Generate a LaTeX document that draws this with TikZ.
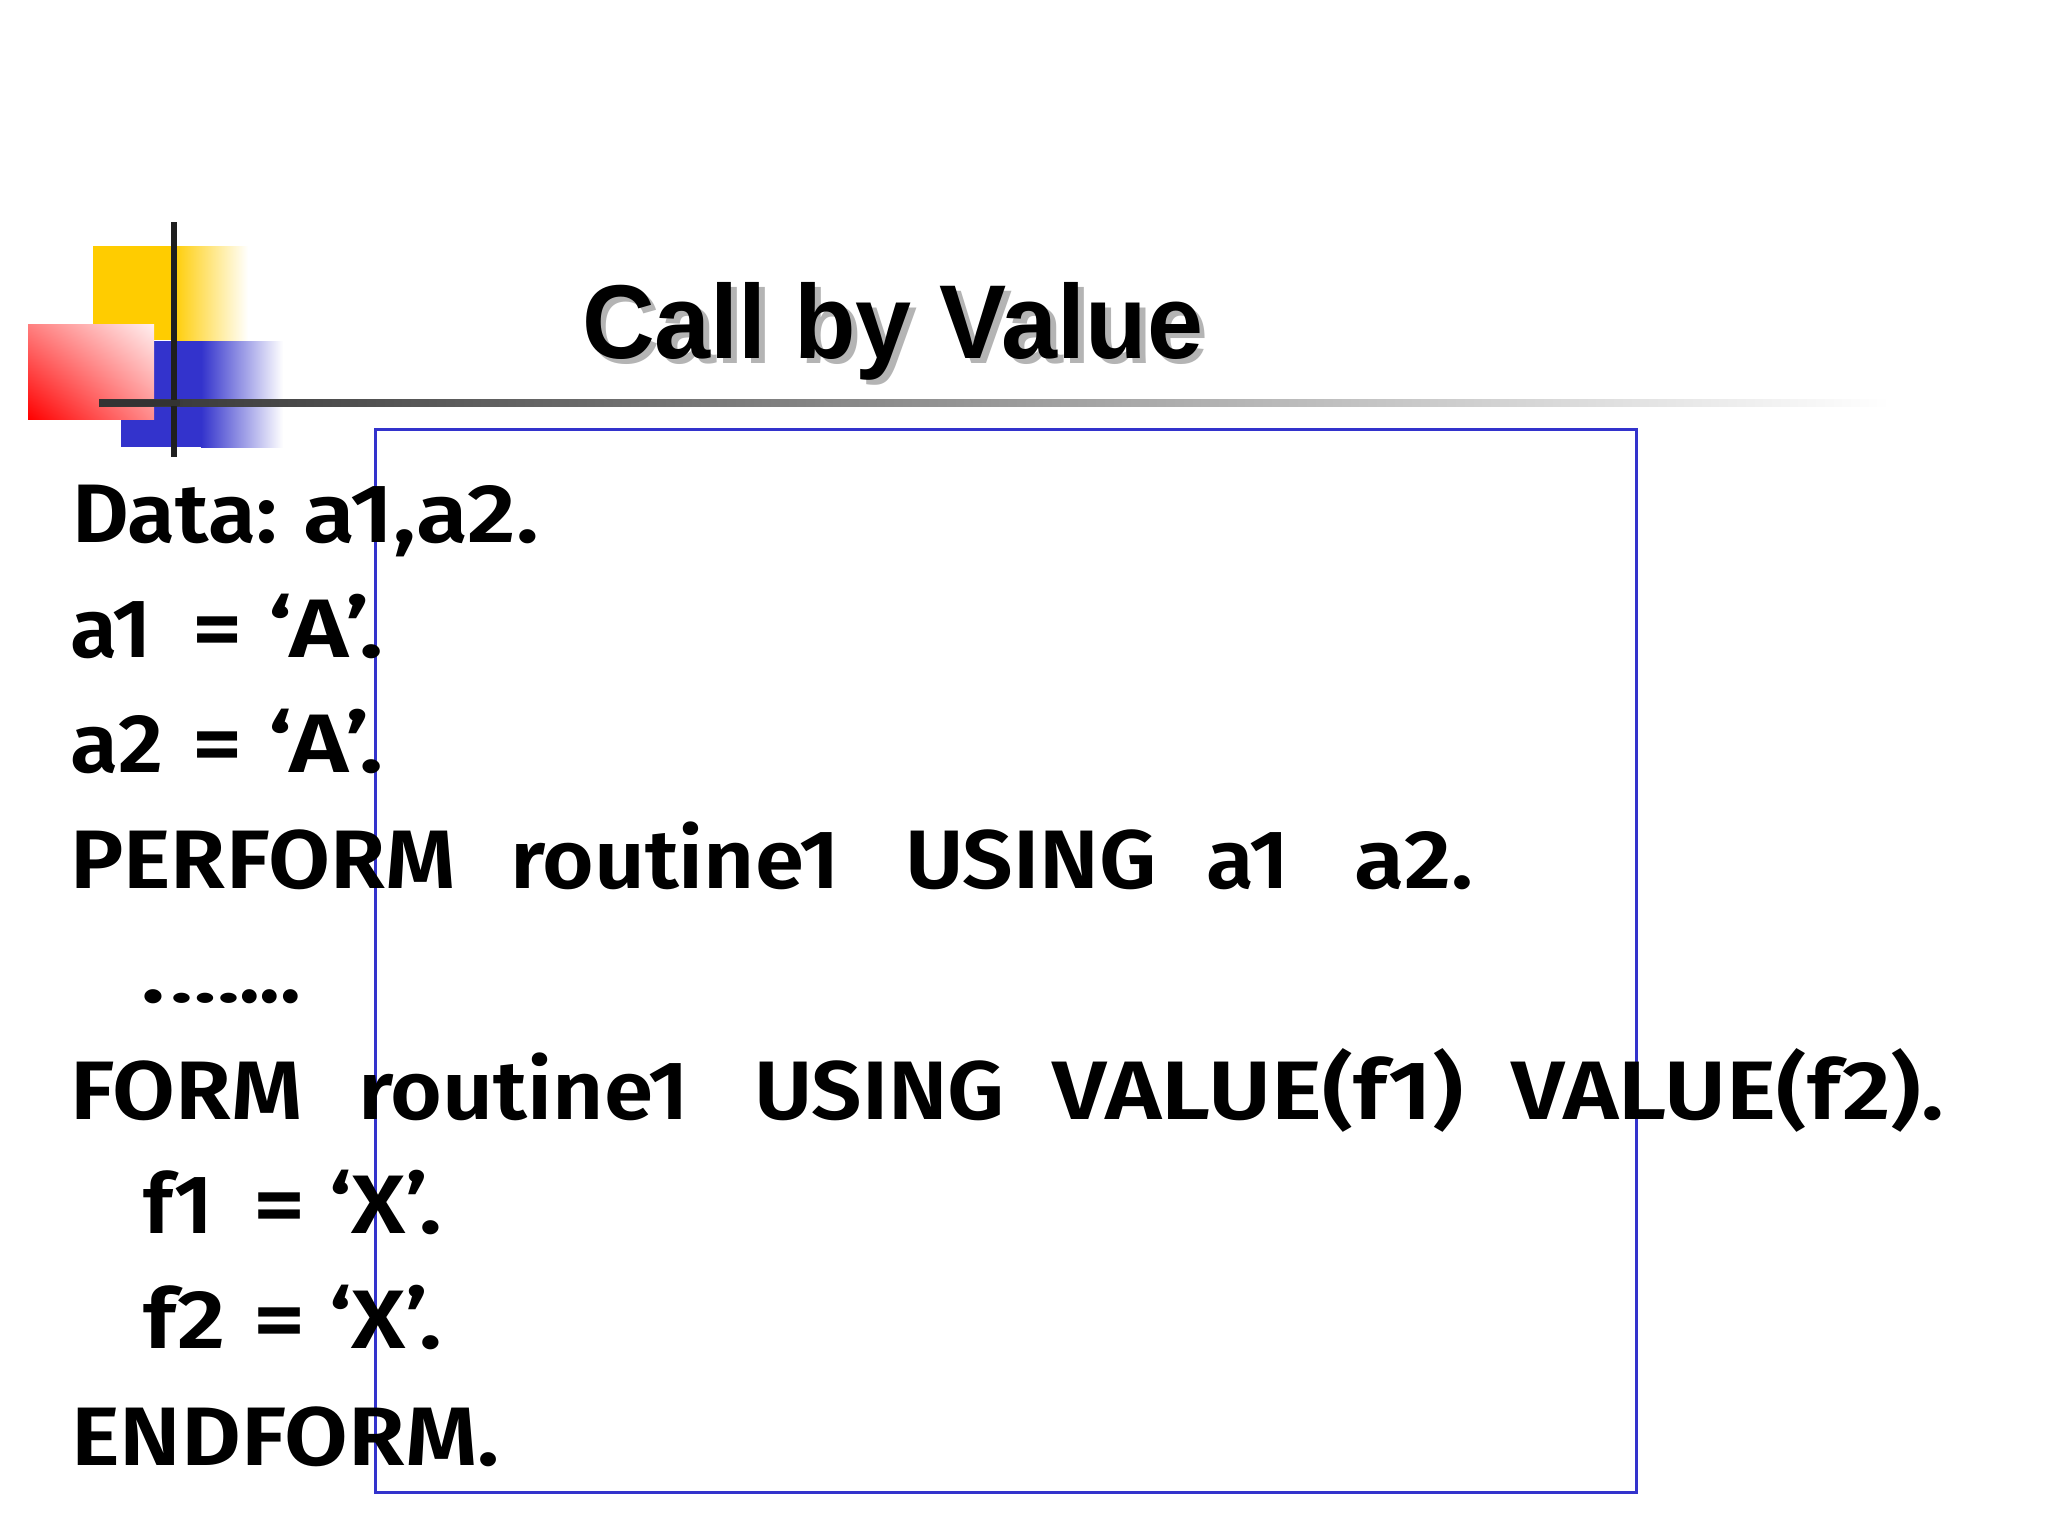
\documentclass[tikz,border=0pt]{standalone}
\usepackage{fontspec}
\usepackage{graphicx}
\usetikzlibrary{shadings}
\newfontfamily\bodyfont{Fira Sans SemiBold}
\newfontfamily\titlefont{Liberation Sans}
\newcommand\fitw[2]{\sbox0{#2}\pgfmathsetmacro\fitsx{#1/\wd0}\scalebox{\fitsx}[1]{\usebox0}}
\newcommand\shadowtext[1]{\rlap{\hspace{6pt}\raisebox{-5pt}{\textcolor{shadowgray}{#1}}}#1}
\definecolor{boxblue}{HTML}{3333CC}
\definecolor{sqyellow}{HTML}{FFCC00}
\definecolor{sqblue}{HTML}{3333CC}
\definecolor{sqred}{HTML}{FF0000}
\definecolor{shadowgray}{HTML}{B4B4B4}
\begin{document}
\begin{tikzpicture}[x=1pt,y=-1pt,
  wd/.style={anchor=base west,inner sep=0pt,outer sep=0pt,font={\bodyfont\fontsize{83}{90}\selectfont}},
  ttl/.style={anchor=base west,inner sep=0pt,outer sep=0pt,font={\titlefont\bfseries\fontsize{105}{110}\selectfont}},
  logoline/.style={line width=6pt,color=black!88}]
\useasboundingbox[fill=white] (0,0) rectangle (2048,1536);
% logo
\fill[sqyellow] (93,246) rectangle (173,340);
\shade[left color=sqyellow,right color=white] (172,246) rectangle (248,340);
\fill[sqblue] (121,341) rectangle (202,447);
\shade[left color=sqblue,right color=white] (201,341) rectangle (283,447);
\shade[lower left=sqred,upper right=red!6,upper left=red!50,lower right=red!45] (28,324) rectangle (154,419);
\shade[left color=black!80,right color=white] (99,399.5) rectangle (1890,406.5);
\draw[logoline] (174,222) -- (174,457);
\draw[logoline,color=black!80] (99,403) -- (180,403);
% title
\node[ttl] (title) at (582,358) {\fitw{621}{\shadowtext{Call by Value}}};
% box
\draw[boxblue,line width=3pt] (375,429) rectangle (1636,1492);
% line 1
\node[wd] (l1a) at (72,542) {\fitw{205}{Data:}};
\node[wd] (l1b) at (303,542) {\fitw{236}{a1,a2.}};
% line 2
\node[wd] (l2a) at (70,657) {\fitw{82}{a1}};
\node[wd] (l2b) at (192,657) {\fitw{50}{=}};
\node[wd] (l2c) at (268,657) {\fitw{116}{‘A’.}};
% line 3
\node[wd] (l3a) at (70,772) {\fitw{93}{a2}};
\node[wd] (l3b) at (192,772) {\fitw{50}{=}};
\node[wd] (l3c) at (268,772) {\fitw{116}{‘A’.}};
% line 4
\node[wd] (l4a) at (70,888) {\fitw{386}{PERFORM}};
\node[wd] (l4b) at (510,888) {\fitw{330}{routine1}};
\node[wd] (l4c) at (905,888) {\fitw{252}{USING}};
\node[wd] (l4d) at (1206,888) {\fitw{83}{a1}};
\node[wd] (l4e) at (1354,888) {\fitw{119}{a2.}};
% line 5
\node[wd] (l5a) at (141,1002) {\fitw{24}{.}};
\node[wd,font={\bodyfont\fontsize{60}{66}\selectfont}] (l5b) at (170,1002) {\fitw{70}{…}};
\node[wd] (l5c) at (239,1002) {\fitw{62}{...}};
% line 6
\node[wd] (l6a) at (70,1119) {\fitw{233}{FORM}};
\node[wd] (l6b) at (358,1119) {\fitw{331}{routine1}};
\node[wd] (l6c) at (754,1119) {\fitw{251}{USING}};
\node[wd] (l6d) at (1052,1119) {\fitw{412}{VALUE(f1)}};
\node[wd] (l6e) at (1511,1119) {\fitw{433}{VALUE(f2).}};
% line 7
\node[wd] (l7a) at (143,1233) {\fitw{70}{f1}};
\node[wd] (l7b) at (253,1233) {\fitw{52}{=}};
\node[wd] (l7c) at (329,1233) {\fitw{113}{‘X’.}};
% line 8
\node[wd] (l8a) at (143,1348) {\fitw{83}{f2}};
\node[wd] (l8b) at (253,1348) {\fitw{52}{=}};
\node[wd] (l8c) at (329,1348) {\fitw{113}{‘X’.}};
% line 9
\node[wd] (l9) at (71,1465) {\fitw{429}{ENDFORM.}};
\end{tikzpicture}
\end{document}
